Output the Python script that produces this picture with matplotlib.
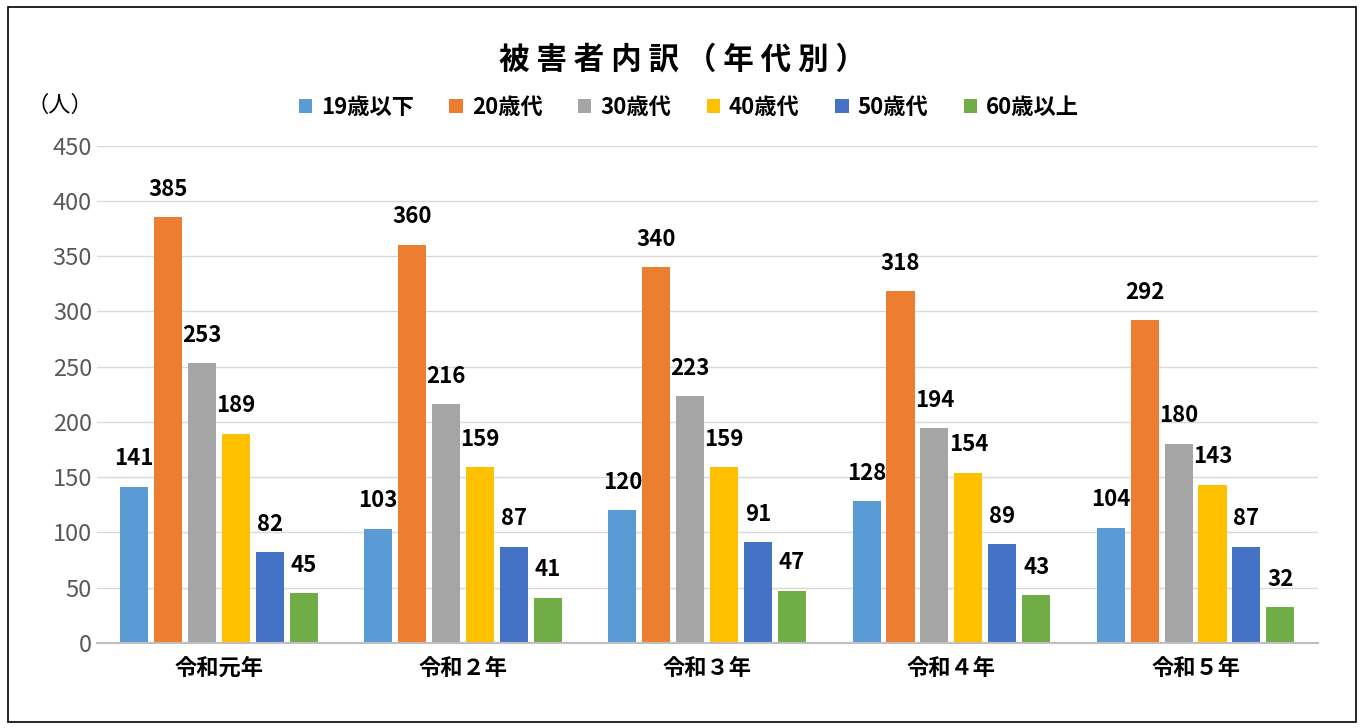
import matplotlib
matplotlib.use("Agg")
import matplotlib.pyplot as plt
import numpy as np
from matplotlib.patches import Rectangle

plt.rcParams['font.family'] = ['Noto Sans CJK JP', 'DejaVu Sans']

categories = ['令和元年', '令和２年', '令和３年', '令和４年', '令和５年']
series_names = ['19歳以下', '20歳代', '30歳代', '40歳代', '50歳代', '60歳以上']
values = {
    '19歳以下': [141, 103, 120, 128, 104],
    '20歳代': [385, 360, 340, 318, 292],
    '30歳代': [253, 216, 223, 194, 180],
    '40歳代': [189, 159, 159, 154, 143],
    '50歳代': [82, 87, 91, 89, 87],
    '60歳以上': [45, 41, 47, 43, 32],
}
colors = ['#5B9BD5', '#ED7D31', '#A5A5A5', '#FFC000', '#4472C4', '#70AD47']
yticks = [0, 50, 100, 150, 200, 250, 300, 350, 400, 450]

plt.rcParams['hatch.color'] = '#FFFFFF'
plt.rcParams['hatch.linewidth'] = 0.5

fig = plt.figure(figsize=(13.64, 7.28), dpi=100)
fig.patches.append(Rectangle((0.006, 0.008), 0.988, 0.982, transform=fig.transFigure,
                             fill=False, edgecolor='black', linewidth=1.2))
ax = fig.add_axes([0.071, 0.117, 0.895, 0.683])

x = np.arange(len(categories))
step = 0.139
w = 0.115
for i, (name, c) in enumerate(zip(series_names, colors)):
    pos = x + (i - 2.5) * step
    ax.bar(pos, values[name], w, color=c, label=name, hatch='------', edgecolor=c, linewidth=0)
    for p, v in zip(pos, values[name]):
        ax.text(p, v + 15, str(v), ha='center', va='bottom', fontsize=16, fontweight='bold')

ax.set_ylim(0, 450)
ax.set_xlim(-0.5, len(categories) - 0.5)
ax.set_yticks(yticks)
ax.set_yticklabels([str(t) for t in yticks], fontsize=17, color='#595959')
ax.set_xticks(x)
ax.set_xticklabels(categories, fontsize=16, fontweight='bold')
ax.tick_params(length=0)
ax.tick_params(axis='x', pad=10)
ax.grid(axis='y', color='#D9D9D9', linewidth=1)
ax.set_axisbelow(True)
for s in ['top', 'right', 'left']:
    ax.spines[s].set_visible(False)
ax.spines['bottom'].set_color('#BFBFBF')
ax.spines['bottom'].set_linewidth(1.5)

fig.text(0.5, 0.918, '被 害 者 内 訳 （ 年 代 別 ）', ha='center', va='center',
         fontsize=22, fontweight='bold')
fig.text(0.044, 0.855, '（人）', ha='center', va='center', fontsize=16)
fig.legend(loc='center', bbox_to_anchor=(0.505, 0.852), ncol=6, frameon=False,
           prop={'size': 16, 'weight': 'bold'}, handlelength=0.6, handleheight=0.6,
           columnspacing=1.6, handletextpad=0.4)

fig.savefig('out.png', dpi=100)
